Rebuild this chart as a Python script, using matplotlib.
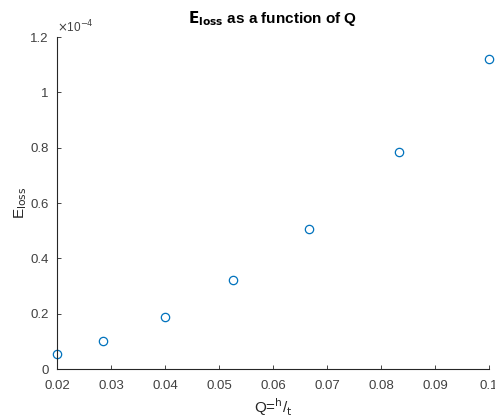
import matplotlib
matplotlib.use("Agg")
import matplotlib.pyplot as plt

Q = [0.02, 0.0286, 0.04, 0.0526, 0.0667, 0.0833, 0.1]
E_loss = [0.053e-4, 0.101e-4, 0.187e-4, 0.320e-4, 0.506e-4, 0.786e-4, 1.120e-4]
xticks = [0.02, 0.03, 0.04, 0.05, 0.06, 0.07, 0.08, 0.09, 0.1]
xticklabels = ["0.02", "0.03", "0.04", "0.05", "0.06", "0.07", "0.08", "0.09", "0.1"]
yticks = [0, 0.2, 0.4, 0.6, 0.8, 1.0, 1.2]
yticklabels = ["0", "0.2", "0.4", "0.6", "0.8", "1", "1.2"]

plt.rcParams['font.family'] = ['Liberation Sans', 'DejaVu Sans']

fig = plt.figure(figsize=(4.95, 4.2), dpi=100)
ax = fig.add_axes([57/495, 1 - 369/420, (489-57)/495, (369-37)/420])

scale = 1e-4
ax.plot(Q, [v / scale for v in E_loss], linestyle='none', marker='o',
        markersize=6, markerfacecolor='none', markeredgecolor='#0072BD',
        markeredgewidth=0.9, clip_on=False)

ax.set_xlim(0.02, 0.1)
ax.set_ylim(0, 1.2)
ax.set_xticks(xticks)
ax.set_xticklabels(xticklabels)
ax.set_yticks(yticks)
ax.set_yticklabels(yticklabels)

for s in ['top', 'right']:
    ax.spines[s].set_visible(False)
for s in ['left', 'bottom']:
    ax.spines[s].set_color('#262626')
    ax.spines[s].set_linewidth(0.8)
ax.tick_params(direction='in', length=3, width=0.6, colors='#262626',
               labelsize=9.5, labelcolor='#404040')
ax.tick_params(axis='x', pad=8)
ax.tick_params(axis='y', pad=6)

ax.text(0.0, 1.005, r'$\times$10$^{-4}$', transform=ax.transAxes,
        fontsize=8.5, color='#404040', ha='left', va='bottom')

ax.set_title(r'$\mathbf{E_{loss}}$ as a function of Q', fontsize=11,
             fontweight='bold', color='black', pad=10)
ax.set_xlabel(r'Q=$^{\mathrm{h}}$/$_{\mathrm{t}}$', fontsize=11, color='#262626', labelpad=3)
ax.set_ylabel(r'E$_{\mathrm{loss}}$', fontsize=11, color='#262626', labelpad=1)

fig.savefig('out.png', dpi=100)
